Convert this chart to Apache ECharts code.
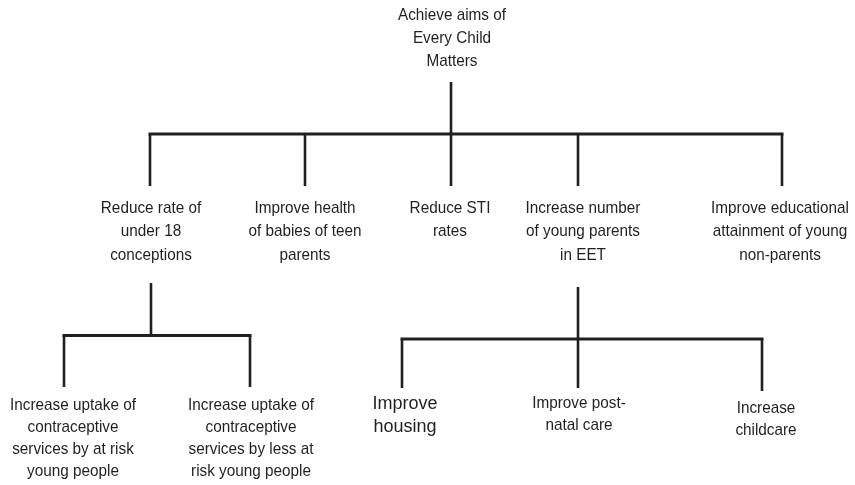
<!DOCTYPE html>
<html>
<head>
<meta charset="utf-8">
<script src="https://cdn.jsdelivr.net/npm/echarts@6/dist/echarts.min.js"></script>
<style>
html,body{margin:0;padding:0;background:#fff;}
#chart{width:855px;height:485px;}
</style>
</head>
<body>
<div id="chart"></div>
<script>
// ---- Tree data ----
const labelText = [
  "Achieve aims of\nEvery Child\nMatters",
  "Reduce rate of\nunder 18\nconceptions",
  "Improve health\nof babies of teen\nparents",
  "Reduce STI\nrates",
  "Increase number\nof young parents\nin EET",
  "Improve educational\nattainment of young\nnon-parents",
  "Increase uptake of\ncontraceptive\nservices by at risk\nyoung people",
  "Increase uptake of\ncontraceptive\nservices by less at\nrisk young people",
  "Improve\nhousing",
  "Improve post-\nnatal care",
  "Increase\nchildcare"
];
const labelLevel = [0, 1, 1, 1, 1, 1, 2, 2, 2, 2, 2];
const labelX = [452, 151, 305, 450, 583, 780, 73, 251, 405, 579, 766];
const labelY = [15, 208.5, 208.5, 208.5, 208.5, 208.5, 405, 405, 404, 403, 408];

// branches: parent stem -> horizontal bus -> child drops
const branchParentX = [451, 151, 578];
const branchStemTop = [82, 283, 287];
const branchBusY = [134, 335.5, 339];
const branchChildX = [[150, 305, 451, 578, 782], [64, 250], [402, 578, 762]];
const branchChildEnd = [[186, 186, 186, 186, 186], [387, 387], [388, 388, 391]];

const INK = '#231f20';
const chart = echarts.init(document.getElementById('chart'), null, {renderer: 'canvas'});

function renderBranch(params, api) {
  const i = params.dataIndex;
  const px = api.value(0), top = api.value(1), bus = api.value(2);
  const kids = branchChildX[i], ends = branchChildEnd[i];
  const children = [];
  const p0 = api.coord([px, top]), p1 = api.coord([px, bus]);
  children.push({type: 'line', shape: {x1: p0[0], y1: p0[1], x2: p1[0], y2: p1[1]},
    style: {stroke: INK, lineWidth: 2.6}});
  const xs = kids.slice();
  const bl = api.coord([Math.min.apply(null, xs), bus]);
  const br = api.coord([Math.max.apply(null, xs), bus]);
  children.push({type: 'line', shape: {x1: bl[0], y1: bl[1], x2: br[0], y2: br[1]},
    style: {stroke: INK, lineWidth: 3, lineCap: 'square'}});
  kids.forEach(function (cx, k) {
    const a = api.coord([cx, bus]), b = api.coord([cx, ends[k]]);
    children.push({type: 'line', shape: {x1: a[0], y1: a[1], x2: b[0], y2: b[1]},
      style: {stroke: INK, lineWidth: 2.6}});
  });
  return {type: 'group', children: children};
}

function renderLabel(params, api) {
  const i = params.dataIndex;
  const p = api.coord([api.value(0), api.value(1)]);
  const lvl = labelLevel[i];
  const plain = (i === 8); // "Improve housing" is set in a wider, larger face
  const lh = plain ? 23 : (lvl === 2 ? 22 : 23.3);
  const fs = plain ? 18 : 17;
  return {
    type: 'text',
    x: p[0], y: p[1] - lh / 2,
    scaleX: plain ? 1 : 0.9,
    style: {
      text: labelText[i],
      font: fs + 'px "Liberation Sans", Arial, sans-serif',
      fill: INK,
      align: 'center',
      verticalAlign: 'top',
      lineHeight: lh
    }
  };
}

const option = {
  animation: false,
  backgroundColor: '#ffffff',
  grid: {left: 0, right: 0, top: 0, bottom: 0},
  xAxis: {type: 'value', min: 0, max: 855, show: false},
  yAxis: {type: 'value', min: 0, max: 485, inverse: true, show: false},
  series: [
    {
      type: 'custom',
      renderItem: renderBranch,
      data: branchParentX.map(function (x, i) { return [x, branchStemTop[i], branchBusY[i]]; }),
      silent: true, clip: false
    },
    {
      type: 'custom',
      renderItem: renderLabel,
      data: labelX.map(function (x, i) { return [x, labelY[i]]; }),
      silent: true, clip: false
    }
  ]
};
chart.setOption(option);
</script>
</body>
</html>
